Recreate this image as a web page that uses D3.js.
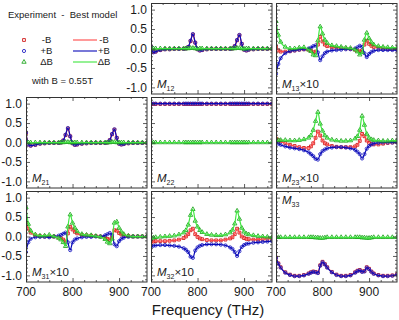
<!DOCTYPE html>
<html><head><meta charset="utf-8">
<script src="https://cdn.jsdelivr.net/npm/d3@7"></script>
<style>
html,body{margin:0;padding:0;background:#fff;}
svg{display:block;font-family:"Liberation Sans",Arial,Helvetica,sans-serif;}
</style></head><body>
<svg id="c" width="399" height="320"></svg>
<script>
// ---------------- data ----------------
const freq = [700,705,710,720,730,740,750,760,770,775,780,785,790,795,800,805,810,820,830,840,850,860,870,875,880,885,890,895,900,905,910,920,930,940,950,960];
const xMajorTicks = [700, 800, 900];
const xMinorTicks = [725, 750, 775, 825, 850, 875, 925, 950];
const yMajorTicks = [-1, -0.5, 0, 0.5, 1];
const yMinorTicks = [-1.1,-0.9,-0.8,-0.7,-0.6,-0.4,-0.3,-0.2,-0.1,0.1,0.2,0.3,0.4,0.6,0.7,0.8,0.9,1.1];
const seriesNames = ["-B", "+B", "\u0394B"];

// M12
const M12_mB = [0.04,-0.09,-0.08,-0.04,-0.02,-0.02,-0.01,-0.01,-0.01,0.0,0.04,0.19,0.36,0.15,-0.02,-0.05,-0.04,-0.02,-0.01,-0.01,-0.01,-0.01,-0.01,0.0,0.06,0.21,0.34,0.12,-0.03,-0.05,-0.03,-0.02,-0.01,-0.01,-0.01,-0.01];
const M12_pB = [0.05,-0.1,-0.08,-0.04,-0.02,-0.02,-0.01,-0.01,-0.01,0.0,0.04,0.2,0.37,0.15,-0.02,-0.05,-0.04,-0.02,-0.01,-0.01,-0.01,-0.01,-0.01,0.0,0.06,0.22,0.35,0.12,-0.03,-0.05,-0.03,-0.02,-0.01,-0.01,-0.01,-0.01];
const M12_dB = [0.01,0.0,0.0,0.0,0.0,0.0,0.0,0.0,0.0,0.0,0.0,0.01,0.01,0.0,-0.01,0.0,0.0,0.0,0.0,0.0,0.0,0.0,0.0,0.0,0.0,0.01,0.01,0.0,-0.01,0.0,0.0,0.0,0.0,0.0,0.0,0.0];
// M13 x10
const M13_mB = [0.05,-0.05,-0.08,-0.08,-0.07,-0.05,-0.03,-0.02,-0.03,-0.05,-0.1,-0.08,0.1,0.3,0.18,0.1,0.06,0.03,0.02,0.01,0.0,-0.01,-0.03,-0.05,-0.08,-0.05,0.1,0.2,0.12,0.07,0.04,0.02,0.0,-0.01,-0.02,-0.02];
const M13_pB = [-0.65,-0.4,-0.25,-0.12,-0.07,-0.05,-0.03,-0.02,0.0,0.02,0.06,0.08,-0.1,-0.3,-0.2,-0.12,-0.08,-0.05,-0.04,-0.03,-0.02,-0.02,0.0,0.03,0.07,0.04,-0.12,-0.22,-0.14,-0.09,-0.06,-0.04,-0.04,-0.04,-0.04,-0.04];
const M13_dB = [0.7,0.35,0.17,0.04,0.0,0.0,0.02,0.03,-0.03,-0.07,-0.16,-0.18,0.2,0.56,0.38,0.22,0.14,0.08,0.06,0.04,0.02,0.01,-0.03,-0.08,-0.16,-0.1,0.22,0.4,0.26,0.16,0.1,0.06,0.04,0.03,0.02,0.02];
// M21
const M21_mB = [0.24,-0.05,-0.08,-0.06,-0.03,-0.02,-0.01,-0.01,-0.01,0.0,0.05,0.19,0.36,0.16,-0.02,-0.06,-0.05,-0.03,-0.02,-0.01,-0.01,-0.01,-0.01,0.0,0.06,0.21,0.33,0.12,-0.03,-0.05,-0.04,-0.02,-0.01,-0.01,-0.01,-0.01];
const M21_pB = [0.25,-0.05,-0.08,-0.06,-0.03,-0.02,-0.01,-0.01,-0.01,0.0,0.05,0.2,0.37,0.16,-0.02,-0.06,-0.05,-0.03,-0.02,-0.01,-0.01,-0.01,-0.01,0.0,0.06,0.22,0.34,0.12,-0.03,-0.05,-0.04,-0.02,-0.01,-0.01,-0.01,-0.01];
const M21_dB = [0.01,0.0,0.0,0.0,0.0,0.0,0.0,0.0,0.0,0.0,0.0,0.01,0.01,0.0,0.0,0.0,0.0,0.0,0.0,0.0,0.0,0.0,0.0,0.0,0.0,0.01,0.01,0.0,0.0,0.0,0.0,0.0,0.0,0.0,0.0,0.0];
// M22
const M22_mB = [0.99,0.99,0.99,0.99,0.99,0.99,0.99,0.99,0.99,0.99,0.99,0.99,0.99,0.99,0.99,0.99,0.99,0.99,0.99,0.99,0.99,0.99,0.99,0.99,0.99,0.99,0.99,0.99,0.99,0.99,0.99,0.99,0.99,0.99,0.99,0.99];
const M22_pB = [1.0,1.0,1.0,1.0,1.0,1.0,1.0,1.0,1.0,1.0,1.0,1.0,1.0,1.0,1.0,1.0,1.0,1.0,1.0,1.0,1.0,1.0,1.0,1.0,1.0,1.0,1.0,1.0,1.0,1.0,1.0,1.0,1.0,1.0,1.0,1.0];
const M22_dB = [0.0,0.0,0.0,0.0,0.0,0.0,0.0,0.0,0.0,0.0,0.0,0.0,0.0,0.0,0.0,0.0,0.0,0.0,0.0,0.0,0.0,0.0,0.0,0.0,0.0,0.0,0.0,0.0,0.0,0.0,0.0,0.0,0.0,0.0,0.0,0.0];
// M23 x10
const M23_mB = [0.1,0.06,0.03,-0.02,-0.06,-0.09,-0.12,-0.14,-0.14,-0.1,-0.02,0.12,0.28,0.18,0.05,-0.02,-0.05,-0.09,-0.11,-0.12,-0.12,-0.12,-0.1,-0.06,0.04,0.22,0.16,0.05,-0.01,-0.04,-0.05,-0.05,-0.03,-0.01,0.0,0.01];
const M23_pB = [0.02,-0.03,-0.06,-0.1,-0.13,-0.15,-0.17,-0.2,-0.25,-0.3,-0.35,-0.42,-0.44,-0.3,-0.22,-0.18,-0.15,-0.13,-0.12,-0.12,-0.13,-0.15,-0.19,-0.24,-0.3,-0.41,-0.3,-0.16,-0.09,-0.05,-0.03,-0.01,0.0,0.0,0.0,0.0];
const M23_dB = [0.06,0.06,0.06,0.06,0.05,0.05,0.06,0.08,0.12,0.18,0.32,0.55,0.78,0.48,0.3,0.18,0.12,0.07,0.05,0.04,0.04,0.05,0.1,0.16,0.32,0.68,0.45,0.22,0.12,0.08,0.06,0.05,0.04,0.04,0.05,0.05];
// M31 x10
const M31_mB = [0.35,0.2,0.1,0.03,0.01,0.0,0.0,0.0,-0.02,-0.04,-0.08,-0.13,0.08,0.25,0.18,0.12,0.08,0.04,0.03,0.02,0.01,0.0,-0.03,-0.06,-0.08,-0.02,0.16,0.15,0.09,0.05,0.03,0.01,0.0,0.0,0.0,0.0];
const M31_pB = [-0.4,-0.15,-0.06,-0.02,-0.01,-0.01,-0.02,0.0,0.02,0.04,0.07,0.1,-0.15,-0.35,-0.15,-0.08,-0.05,-0.02,-0.01,-0.01,0.0,0.0,0.03,0.06,0.09,0.04,-0.2,-0.25,-0.12,-0.06,-0.03,-0.01,0.0,0.0,0.0,0.0];
const M31_dB = [0.75,0.32,0.15,0.05,0.02,0.02,0.04,0.0,-0.04,-0.08,-0.15,-0.25,0.25,0.56,0.35,0.22,0.13,0.06,0.04,0.03,0.01,-0.01,-0.07,-0.14,-0.18,-0.06,0.35,0.38,0.22,0.12,0.06,0.02,0.0,0.0,0.0,0.0];
// M32 x10
const M32_mB = [-0.13,-0.13,-0.12,-0.12,-0.12,-0.11,-0.1,-0.08,-0.04,0.0,0.06,0.16,0.2,0.06,-0.01,-0.05,-0.07,-0.09,-0.1,-0.1,-0.1,-0.08,-0.05,-0.02,0.06,0.2,0.1,0.0,-0.04,-0.06,-0.07,-0.08,-0.08,-0.07,-0.06,-0.05];
const M32_pB = [-0.25,-0.24,-0.23,-0.22,-0.22,-0.23,-0.24,-0.26,-0.3,-0.34,-0.4,-0.52,-0.55,-0.36,-0.28,-0.24,-0.22,-0.2,-0.2,-0.2,-0.21,-0.23,-0.28,-0.32,-0.4,-0.5,-0.38,-0.27,-0.22,-0.19,-0.18,-0.16,-0.15,-0.14,-0.13,-0.12];
const M32_dB = [-0.04,-0.03,-0.02,-0.01,0.0,0.01,0.02,0.05,0.1,0.16,0.3,0.55,0.7,0.4,0.25,0.16,0.11,0.06,0.04,0.03,0.03,0.05,0.1,0.17,0.33,0.66,0.45,0.22,0.12,0.07,0.05,0.03,0.01,0.0,-0.01,-0.02];
// M33
const M33_mB = [-0.54,-0.69,-0.79,-0.92,-0.98,-1.01,-1.01,-0.99,-0.95,-0.92,-0.9,-0.91,-0.93,-0.74,-0.65,-0.71,-0.79,-0.91,-0.98,-1.01,-1.01,-0.99,-0.92,-0.88,-0.86,-0.9,-0.89,-0.79,-0.83,-0.9,-0.95,-0.99,-1.01,-1.01,-1.0,-0.97];
const M33_pB = [-0.55,-0.7,-0.8,-0.93,-0.99,-1.02,-1.02,-1.0,-0.96,-0.93,-0.91,-0.92,-0.94,-0.75,-0.66,-0.72,-0.8,-0.92,-0.99,-1.02,-1.02,-1.0,-0.93,-0.89,-0.87,-0.91,-0.9,-0.8,-0.84,-0.91,-0.96,-1.0,-1.02,-1.02,-1.01,-0.98];
const M33_dB = [-0.02,-0.02,-0.02,-0.02,-0.02,-0.02,-0.02,-0.02,-0.02,-0.02,-0.02,-0.03,-0.03,-0.04,-0.04,-0.03,-0.02,-0.02,-0.02,-0.02,-0.02,-0.02,-0.02,-0.02,-0.02,-0.03,-0.03,-0.04,-0.04,-0.03,-0.02,-0.02,-0.02,-0.02,-0.02,-0.02];

const panels = [
  {row:0, col:1, sub:"12", times:false, top:false, series:[M12_mB, M12_pB, M12_dB], yLabels:true},
  {row:0, col:2, sub:"13", times:true,  top:false, series:[M13_mB, M13_pB, M13_dB], yLabels:false},
  {row:1, col:0, sub:"21", times:false, top:false, series:[M21_mB, M21_pB, M21_dB], yLabels:true},
  {row:1, col:1, sub:"22", times:false, top:false, series:[M22_mB, M22_pB, M22_dB], yLabels:false},
  {row:1, col:2, sub:"23", times:true,  top:false, series:[M23_mB, M23_pB, M23_dB], yLabels:false},
  {row:2, col:0, sub:"31", times:true,  top:false, series:[M31_mB, M31_pB, M31_dB], yLabels:true},
  {row:2, col:1, sub:"32", times:true,  top:false, series:[M32_mB, M32_pB, M32_dB], yLabels:false},
  {row:2, col:2, sub:"33", times:false, top:true,  series:[M33_mB, M33_pB, M33_dB], yLabels:false}
];

// ---------------- drawing ----------------
const svg = d3.select("#c");
svg.append("rect").attr("width",399).attr("height",320).attr("fill","#fff");
const W = 121, H = 91;
const colX = [26, 151, 276], rowY = [3, 97, 191];
const x = d3.scaleLinear().domain([700, 960]).range([0, W]);
const y = d3.scaleLinear().domain([-1.17, 1.17]).range([H, 0]);
const expColors = ["#d01818", "#2626c4", "#22a822"];
const modColors = ["#ff4848", "#0a0ab8", "#3fe63f"];
const symbols = [d3.symbolSquare, d3.symbolCircle, d3.symbolTriangle];
const symSize = [8, 8, 8];
const fmt = v => v.toFixed(1);
const textCol = "#1a1a1a";

const line = d3.line().x(d => x(d[0])).y(d => y(d[1])).curve(d3.curveMonotoneX);

panels.forEach((p, i) => {
  const g = svg.append("g").attr("transform", `translate(${colX[p.col]},${rowY[p.row]})`);
  g.append("clipPath").attr("id", "cp" + i).append("rect").attr("width", W).attr("height", H);
  const dg = g.append("g").attr("clip-path", `url(#cp${i})`);
  [0, 1, 2].forEach(s => {
    const pts = freq.map((f, k) => [f, p.series[s][k]]);
    dg.append("g").selectAll("path").data(pts).join("path")
      .attr("transform", d => `translate(${x(d[0])},${y(d[1])})`)
      .attr("d", d3.symbol().type(symbols[s]).size(symSize[s]))
      .attr("fill", "none").attr("stroke", expColors[s]).attr("stroke-width", 0.9);
    dg.append("path").datum(pts).attr("d", line)
      .attr("fill", "none").attr("stroke", modColors[s]).attr("stroke-width", 1.2);
  });

  // ticks (inward, all sides)
  const axes = [
    [d3.axisBottom(x), `translate(0,${H})`, xMajorTicks, xMinorTicks],
    [d3.axisTop(x), `translate(0,0)`, xMajorTicks, xMinorTicks],
    [d3.axisLeft(y), `translate(0,0)`, yMajorTicks, yMinorTicks],
    [d3.axisRight(y), `translate(${W},0)`, yMajorTicks, yMinorTicks]
  ];
  axes.forEach(([ax, tr, maj, min]) => {
    const a1 = g.append("g").attr("transform", tr).call(ax.tickValues(maj).tickSize(-4).tickFormat(""));
    a1.select(".domain").remove();
    const a2 = g.append("g").attr("transform", tr).call(ax.tickValues(min).tickSize(-2).tickFormat(""));
    a2.select(".domain").remove();
  });
  g.selectAll(".tick line").attr("stroke", "#333").attr("stroke-width", 0.8);

  g.append("rect").attr("x", 0.5).attr("y", 0.5).attr("width", W - 0.5).attr("height", H - 0.5)
    .attr("fill", "none").attr("stroke", "#333").attr("stroke-width", 1);

  if (p.yLabels) {
    g.append("g").selectAll("text").data(yMajorTicks).join("text")
      .attr("x", -4).attr("y", d => y(d)).attr("dy", "0.36em")
      .attr("text-anchor", "end").attr("font-size", 12).attr("fill", textCol)
      .text(fmt);
  }
  if (p.row === 2) {
    g.append("g").selectAll("text").data(xMajorTicks).join("text")
      .attr("x", d => x(d)).attr("y", H + 14)
      .attr("text-anchor", "middle").attr("font-size", 12).attr("fill", textCol)
      .text(d => d);
  }
  const ly = p.top ? 13 : H - 6;
  const t = g.append("text").attr("x", 6).attr("y", ly).attr("font-size", 11.5).attr("fill", textCol);
  t.append("tspan").attr("font-style", "italic").text("M");
  t.append("tspan").attr("font-size", 7).attr("dy", 3).text(p.sub);
  if (p.times) t.append("tspan").attr("dy", -3).text("\u00d710");
});

// x axis title
svg.append("text").attr("x", 208).attr("y", 315).attr("text-anchor", "middle")
  .attr("font-size", 15).attr("fill", textCol).text("Frequency (THz)");

// legend
const lg = svg.append("g");
lg.append("text").attr("x", 8).attr("y", 18).attr("font-size", 9.5).attr("fill", textCol)
  .text("Experiment\u00a0\u00a0-\u00a0\u00a0Best model");
const legY = [40, 51, 62];
seriesNames.forEach((n, s) => {
  lg.append("path").attr("transform", `translate(24,${legY[s]})`)
    .attr("d", d3.symbol().type(symbols[s]).size(symSize[s]))
    .attr("fill", "none").attr("stroke", expColors[s]).attr("stroke-width", 0.9);
  lg.append("text").attr("x", 46.5).attr("y", legY[s]).attr("dy", "0.35em")
    .attr("text-anchor", "middle").attr("font-size", 9.5).attr("fill", textCol).text(n);
  lg.append("line").attr("x1", 73).attr("x2", 97).attr("y1", legY[s]).attr("y2", legY[s])
    .attr("stroke", modColors[s]).attr("stroke-width", 1.1);
  lg.append("text").attr("x", 104).attr("y", legY[s]).attr("dy", "0.35em")
    .attr("text-anchor", "middle").attr("font-size", 9.5).attr("fill", textCol).text(n);
});
lg.append("text").attr("x", 32).attr("y", 84).attr("font-size", 9.5).attr("fill", textCol)
  .text("with B = 0.55T");
</script>
</body></html>
